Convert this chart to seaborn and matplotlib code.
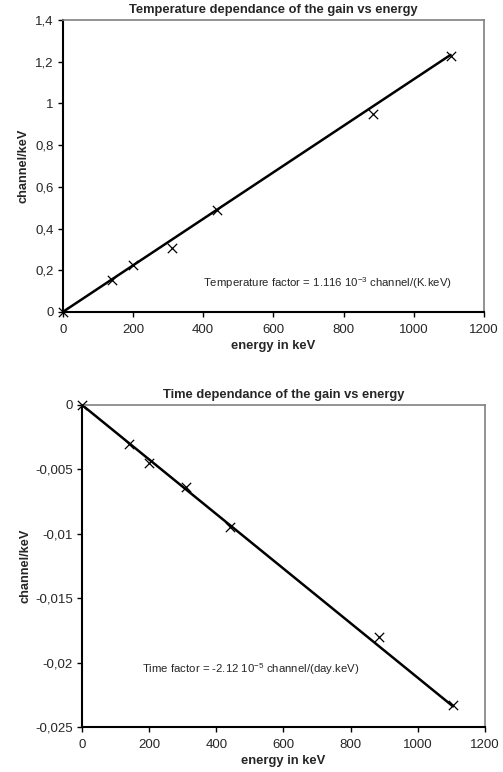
import matplotlib
matplotlib.use("Agg")
import matplotlib.pyplot as plt
import seaborn as sns
import pandas as pd

energy = [0, 140, 200, 310, 440, 885, 1105]
temp_gain = [0, 0.155, 0.225, 0.305, 0.49, 0.95, 1.23]
time_gain = [0, -0.003, -0.0045, -0.0064, -0.0095, -0.018, -0.0233]
temp_trend_x = [0, 1105]
temp_trend_y = [0, 1.233]
time_trend_x = [0, 1105]
time_trend_y = [0, -0.0234]

x_ticks = [0, 200, 400, 600, 800, 1000, 1200]
temp_yticks = [0, 0.2, 0.4, 0.6, 0.8, 1.0, 1.2, 1.4]
temp_ylabels = ["0", "0,2", "0,4", "0,6", "0,8", "1", "1,2", "1,4"]
time_yticks = [0, -0.005, -0.01, -0.015, -0.02, -0.025]
time_ylabels = ["0", "-0,005", "-0,01", "-0,015", "-0,02", "-0,025"]

sns.set_style("white")
plt.rcParams["font.family"] = ["Liberation Sans", "DejaVu Sans"]
plt.rcParams["mathtext.fontset"] = "custom"
plt.rcParams["mathtext.rm"] = "Liberation Sans"
plt.rcParams["mathtext.it"] = "Liberation Sans"
plt.rcParams["mathtext.bf"] = "Liberation Sans:bold"
plt.rcParams["axes.unicode_minus"] = False

fig = plt.figure(figsize=(5.03, 7.72), dpi=100)
ax1 = fig.add_axes([0.125, 0.596, 0.837, 0.378])
ax2 = fig.add_axes([0.163, 0.0583, 0.801, 0.4172])

def style(ax, yticks, ylabels, ylim, title, note, note_xy, ylabelpad, titlepad):
    ax.set_xlim(0, 1200)
    ax.set_ylim(*ylim)
    ax.set_xticks(x_ticks)
    ax.set_xticklabels([str(t) for t in x_ticks], fontsize=9.5)
    ax.set_yticks(yticks)
    ax.set_yticklabels(ylabels, fontsize=9.5)
    ax.tick_params(axis="both", direction="out", length=3.5, width=1, color="black",
                   bottom=True, left=True)
    ax.tick_params(axis="x", pad=5)
    ax.tick_params(axis="y", pad=3)
    for s in ["left", "bottom"]:
        ax.spines[s].set_color("black")
        ax.spines[s].set_linewidth(1.5)
    for s in ["top", "right"]:
        ax.spines[s].set_color("#808080")
        ax.spines[s].set_linewidth(1.2)
    ax.set_xlabel("energy in keV", fontsize=9.4, fontweight="bold", labelpad=3)
    ax.set_ylabel("channel/keV", fontsize=9.2, fontweight="bold", labelpad=ylabelpad)
    ax.set_title(title, fontsize=9.3, fontweight="bold", pad=titlepad)
    ax.text(note_xy[0], note_xy[1], note, fontsize=8.2, va="center",
            transform=ax.transData)
    ax.grid(False)

df1 = pd.DataFrame({"energy": energy, "gain": temp_gain})
df1t = pd.DataFrame({"energy": temp_trend_x, "gain": temp_trend_y})
sns.lineplot(data=df1t, x="energy", y="gain", ax=ax1, color="black", linewidth=1.8)
sns.scatterplot(data=df1, x="energy", y="gain", ax=ax1, marker="x", s=45,
                color="black", linewidth=0.9, zorder=5, clip_on=False)
style(ax1, temp_yticks, temp_ylabels, (0, 1.4),
      "Temperature dependance of the gain vs energy",
      "Temperature factor = 1.116 10$^{-3}$ channel/(K.keV)", (400, 0.139), 4, 5)

df2 = pd.DataFrame({"energy": energy, "gain": time_gain})
df2t = pd.DataFrame({"energy": time_trend_x, "gain": time_trend_y})
sns.lineplot(data=df2t, x="energy", y="gain", ax=ax2, color="black", linewidth=1.8)
sns.scatterplot(data=df2, x="energy", y="gain", ax=ax2, marker="x", s=45,
                color="black", linewidth=0.9, zorder=5, clip_on=False)
style(ax2, time_yticks, time_ylabels, (-0.025, 0),
      "Time dependance of the gain vs energy",
      "Time factor = -2.12 10$^{-5}$ channel/(day.keV)", (179, -0.0205), 3, 5)

fig.savefig("out.png", dpi=100)
